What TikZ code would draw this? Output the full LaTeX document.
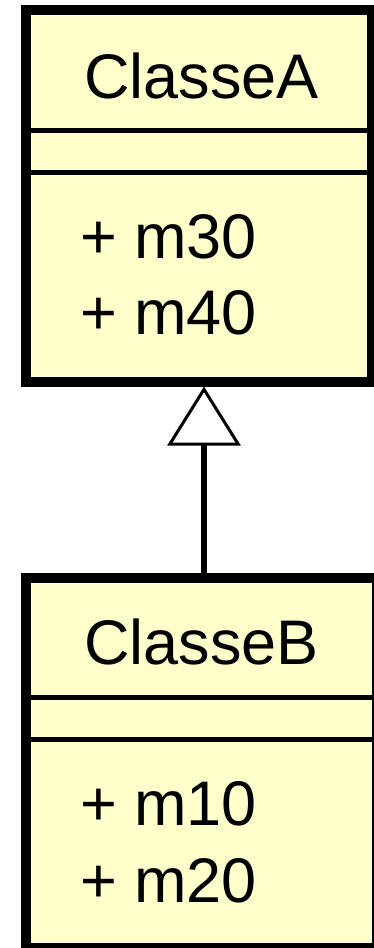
\documentclass[tikz,border=0pt]{standalone}
\usepackage{fontspec}
\setmainfont{Liberation Sans}
\usetikzlibrary{arrows.meta}
\definecolor{classfill}{RGB}{255,255,204}
\tikzset{
  classbox/.style={draw=black, fill=classfill, line width=10pt, rectangle, inner sep=0pt},
  divider/.style={draw=black, line width=5pt},
  lbl/.style={font=\fontsize{63}{63}\selectfont, inner sep=0pt},
  gen/.style={line width=6pt, -{Triangle[open, fill=white, length=59pt, width=73pt, line width=3pt]}}
}
\begin{document}
\begin{tikzpicture}[x=1pt, y=-1pt]
\useasboundingbox (0,0) rectangle (374,948);
\clip (0,0) rectangle (374,948);
% class A
\node[classbox, minimum width=346pt, minimum height=371.5pt] (A) at (199,195.75) {};
\draw[divider] (A.west |- 0,130.5) -- (A.east |- 0,130.5);
\draw[divider] (A.west |- 0,172.5) -- (A.east |- 0,172.5);
\node[lbl, anchor=base] (Aname) at (201.5,98) {ClasseA};
\node[lbl, anchor=base west] (Am3) at (80,258) {+ m30};
\node[lbl, anchor=base west] (Am4) at (80,334) {+ m40};
% class B
\node[classbox, minimum width=351pt, minimum height=370.5pt] (B) at (201.5,762.75) {};
\draw[divider] (B.west |- 0,697.5) -- (B.east |- 0,697.5);
\draw[divider] (B.west |- 0,739.5) -- (B.east |- 0,739.5);
\node[lbl, anchor=base] (Bname) at (201.5,664) {ClasseB};
\node[lbl, anchor=base west] (Bm1) at (80,825) {+ m10};
\node[lbl, anchor=base west] (Bm2) at (80,902) {+ m20};
% generalization
\draw[gen] (B.north -| 204,0) -- (A.south -| 204,0);
\end{tikzpicture}
\end{document}
